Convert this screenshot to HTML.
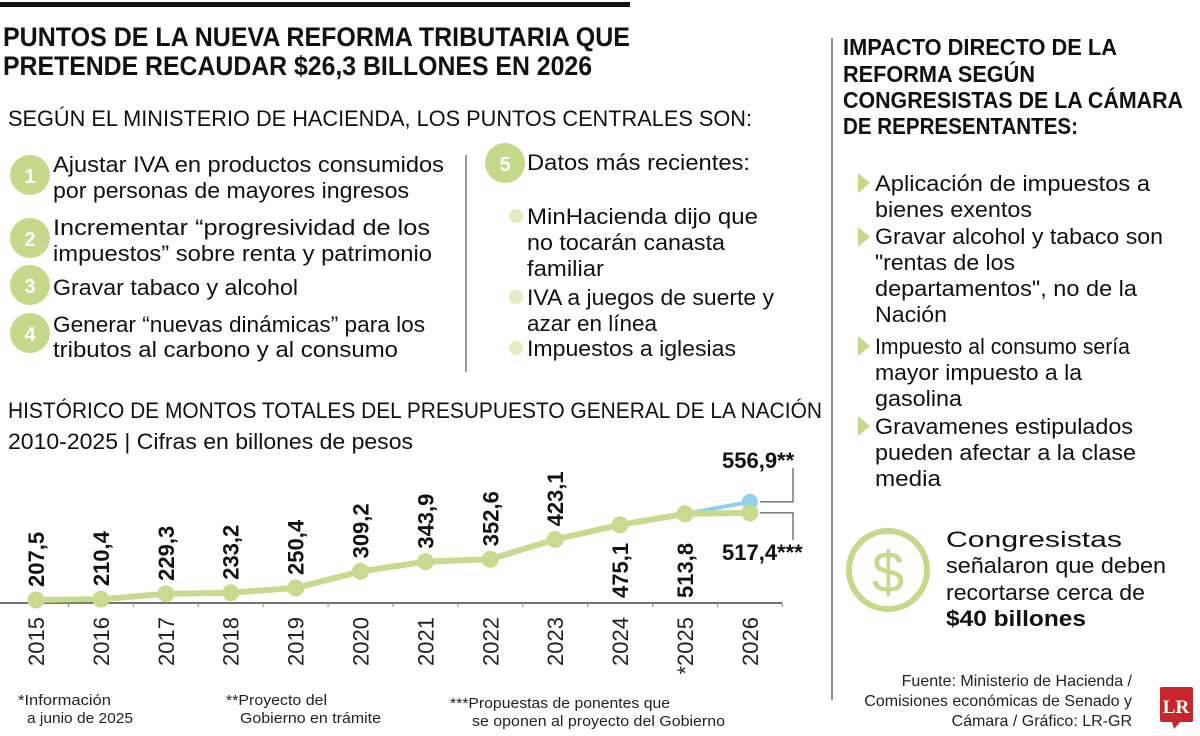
<!DOCTYPE html>
<html><head><meta charset="utf-8"><style>
html,body{margin:0;padding:0;background:#fff;}
svg{display:block;font-family:"Liberation Sans",sans-serif;}
.t{font-size:22px;fill:#111;}
.b{font-weight:bold;}
</style></head><body>
<svg id="page" width="1200" height="736" viewBox="0 0 1200 736" xmlns="http://www.w3.org/2000/svg">
<rect width="1200" height="736" fill="#fff"/>
<rect x="0" y="2" width="630" height="5" fill="#111"/>
<g class="b" font-size="27" fill="#111">
<text x="3" y="46" textLength="627" lengthAdjust="spacingAndGlyphs">PUNTOS DE LA NUEVA REFORMA TRIBUTARIA QUE</text>
<text x="3" y="75" textLength="589" lengthAdjust="spacingAndGlyphs">PRETENDE RECAUDAR $26,3 BILLONES EN 2026</text>
</g>
<text class="t" x="8" y="126" textLength="744" lengthAdjust="spacingAndGlyphs">SEGÚN EL MINISTERIO DE HACIENDA, LOS PUNTOS CENTRALES SON:</text>

<g>
<circle cx="30" cy="175" r="20" fill="#c5d98a"/><text x="30" y="183" text-anchor="middle" class="b" font-size="20" fill="#fff">1</text>
<text class="t" x="53" y="172" textLength="391" lengthAdjust="spacingAndGlyphs">Ajustar IVA en productos consumidos</text>
<text class="t" x="53" y="198" textLength="356" lengthAdjust="spacingAndGlyphs">por personas de mayores ingresos</text></g>
<g>
<circle cx="30" cy="238" r="20" fill="#c5d98a"/><text x="30" y="246" text-anchor="middle" class="b" font-size="20" fill="#fff">2</text>
<text class="t" x="53" y="235" textLength="377" lengthAdjust="spacingAndGlyphs">Incrementar “progresividad de los</text>
<text class="t" x="53" y="261" textLength="379" lengthAdjust="spacingAndGlyphs">impuestos” sobre renta y patrimonio</text></g>
<g>
<circle cx="30" cy="285" r="20" fill="#c5d98a"/><text x="30" y="293" text-anchor="middle" class="b" font-size="20" fill="#fff">3</text>
<text class="t" x="53" y="295" textLength="245" lengthAdjust="spacingAndGlyphs">Gravar tabaco y alcohol</text></g>
<g>
<circle cx="30" cy="333" r="20" fill="#c5d98a"/><text x="30" y="341" text-anchor="middle" class="b" font-size="20" fill="#fff">4</text>
<text class="t" x="53" y="332" textLength="372" lengthAdjust="spacingAndGlyphs">Generar “nuevas dinámicas” para los</text>
<text class="t" x="53" y="357" textLength="345" lengthAdjust="spacingAndGlyphs">tributos al carbono y al consumo</text></g>
<line x1="466" y1="155" x2="466" y2="372" stroke="#333" stroke-width="1"/>
<g>
<circle cx="505" cy="163" r="20" fill="#c5d98a"/><text x="505" y="171" text-anchor="middle" class="b" font-size="20" fill="#fff">5</text>
<text class="t" x="527" y="170" textLength="223" lengthAdjust="spacingAndGlyphs">Datos más recientes:</text>
<circle cx="516" cy="216" r="7" fill="#e2ecc5"/>
<text class="t" x="527" y="224" textLength="231" lengthAdjust="spacingAndGlyphs">MinHacienda dijo que</text>
<text class="t" x="527" y="250" textLength="198" lengthAdjust="spacingAndGlyphs">no tocarán canasta</text>
<text class="t" x="527" y="276" textLength="77" lengthAdjust="spacingAndGlyphs">familiar</text>
<circle cx="516" cy="297" r="7" fill="#e2ecc5"/>
<text class="t" x="527" y="305" textLength="247" lengthAdjust="spacingAndGlyphs">IVA a juegos de suerte y</text>
<text class="t" x="527" y="331" textLength="130" lengthAdjust="spacingAndGlyphs">azar en línea</text>
<circle cx="516" cy="348" r="7" fill="#e2ecc5"/>
<text class="t" x="527" y="356" textLength="209" lengthAdjust="spacingAndGlyphs">Impuestos a iglesias</text></g>

<text class="t" font-size="21" x="8" y="418" textLength="814" lengthAdjust="spacingAndGlyphs">HISTÓRICO DE MONTOS TOTALES DEL PRESUPUESTO GENERAL DE LA NACIÓN</text>
<text class="t" font-size="21" fill="#333" x="8" y="449" textLength="405" lengthAdjust="spacingAndGlyphs">2010-2025 | Cifras en billones de pesos</text>
<g id="chart"></g>

<g font-size="15" fill="#222">
<text x="18" y="705" textLength="93" lengthAdjust="spacingAndGlyphs">*Información</text>
<text x="27" y="723" textLength="106" lengthAdjust="spacingAndGlyphs">a junio de 2025</text>
<text x="226" y="705" textLength="101" lengthAdjust="spacingAndGlyphs">**Proyecto del</text>
<text x="240" y="723" textLength="141" lengthAdjust="spacingAndGlyphs">Gobierno en trámite</text>
<text x="450" y="708" textLength="220" lengthAdjust="spacingAndGlyphs">***Propuestas de ponentes que</text>
<text x="472" y="726" textLength="253" lengthAdjust="spacingAndGlyphs">se oponen al proyecto del Gobierno</text>
</g>

<line x1="832" y1="38" x2="832" y2="700" stroke="#444" stroke-width="1.2"/>
<g class="b" font-size="23" fill="#111">
<text x="843" y="55" textLength="274" lengthAdjust="spacingAndGlyphs">IMPACTO DIRECTO DE LA</text>
<text x="843" y="82" textLength="192" lengthAdjust="spacingAndGlyphs">REFORMA SEGÚN</text>
<text x="843" y="108" textLength="340" lengthAdjust="spacingAndGlyphs">CONGRESISTAS DE LA CÁMARA</text>
<text x="843" y="134" textLength="235" lengthAdjust="spacingAndGlyphs">DE REPRESENTANTES:</text>
</g>
<g>
<polygon points="858,173 870,183 858,193" fill="#c5d98a"/>
<text class="t" x="875" y="191" textLength="275" lengthAdjust="spacingAndGlyphs">Aplicación de impuestos a</text>
<text class="t" x="875" y="217" textLength="157" lengthAdjust="spacingAndGlyphs">bienes exentos</text>
<polygon points="858,227 870,237 858,247" fill="#c5d98a"/>
<text class="t" x="875" y="244" textLength="288" lengthAdjust="spacingAndGlyphs">Gravar alcohol y tabaco son</text>
<text class="t" x="875" y="270" textLength="140" lengthAdjust="spacingAndGlyphs">"rentas de los</text>
<text class="t" x="875" y="296" textLength="262" lengthAdjust="spacingAndGlyphs">departamentos", no de la</text>
<text class="t" x="875" y="322" textLength="72" lengthAdjust="spacingAndGlyphs">Nación</text>
<polygon points="858,336 870,346 858,356" fill="#c5d98a"/>
<text class="t" x="875" y="354" textLength="255" lengthAdjust="spacingAndGlyphs">Impuesto al consumo sería</text>
<text class="t" x="875" y="380" textLength="207" lengthAdjust="spacingAndGlyphs">mayor impuesto a la</text>
<text class="t" x="875" y="406" textLength="87" lengthAdjust="spacingAndGlyphs">gasolina</text>
<polygon points="858,416 870,426 858,436" fill="#c5d98a"/>
<text class="t" x="875" y="434" textLength="258" lengthAdjust="spacingAndGlyphs">Gravamenes estipulados</text>
<text class="t" x="875" y="460" textLength="261" lengthAdjust="spacingAndGlyphs">pueden afectar a la clase</text>
<text class="t" x="875" y="486" textLength="66" lengthAdjust="spacingAndGlyphs">media</text>
</g>
<g>
<circle cx="888" cy="570" r="39" fill="none" stroke="#c5d98a" stroke-width="6"/>
<text x="888" y="592" text-anchor="middle" font-size="58" fill="#c5d98a">$</text></g>
<g>
<text class="t" x="946" y="547" textLength="176" lengthAdjust="spacingAndGlyphs">Congresistas</text>
<text class="t" x="946" y="573" textLength="220" lengthAdjust="spacingAndGlyphs">señalaron que deben</text>
<text class="t" x="946" y="600" textLength="199" lengthAdjust="spacingAndGlyphs">recortarse cerca de</text>
<text class="t b" x="946" y="626" textLength="140" lengthAdjust="spacingAndGlyphs">$40 billones</text></g>
<g font-size="16" fill="#222" text-anchor="end">
<text x="1132" y="686">Fuente: Ministerio de Hacienda /</text>
<text x="1132" y="706">Comisiones económicas de Senado y</text>
<text x="1132" y="726">Cámara / Gráfico: LR-GR</text></g>
<g>
<rect x="1160" y="687" width="33" height="35" rx="2" fill="#c8252c"/>
<polygon points="1172,722 1180,722 1174,729" fill="#c8252c"/>
<text x="1176" y="713" text-anchor="middle" font-family="Liberation Serif,serif" font-weight="bold" font-size="19" fill="#fff">LR</text></g>
</svg>
<script>
const years = ['2015','2016','2017','2018','2019','2020','2021','2022','2023','2024','*2025','2026'];
const values = [207.5,210.4,229.3,233.2,250.4,309.2,343.9,352.6,423.1,475.1,513.8,517.4];
const valueLabels = ['207,5','210,4','229,3','233,2','250,4','309,2','343,9','352,6','423,1','475,1','513,8'];
const govValue = 556.9;
const govLabel = '556,9**';
const ponentesLabel = '517,4***';

const NS = 'http://www.w3.org/2000/svg';
const g = document.getElementById('chart');
const xScale = i => 36 + i * 64.9;
const yScale = v => 600 - (v - 207.5) * 0.281;
function mk(tag, attrs, text) {
  const e = document.createElementNS(NS, tag);
  for (const k in attrs) e.setAttribute(k, attrs[k]);
  if (text !== undefined) e.textContent = text;
  g.appendChild(e);
  return e;
}
const axis = mk('line', {x1: 0, y1: 603, x2: 782, y2: 603, stroke: '#444', 'stroke-width': 1.5});


for (let i = 0; i < years.length; i++) {
  const tk = mk('line', {x1: xScale(i) + 32.5, y1: 603, x2: xScale(i) + 32.5, y2: 607, stroke: '#888', 'stroke-width': 1});
  
  
}
const n = values.length;
const blue = mk('line', {x1: xScale(n - 2), y1: yScale(values[n - 2]), x2: xScale(n - 1), y2: yScale(govValue), stroke: '#8fd0ea', 'stroke-width': 4});


const pts = values.map((v, i) => xScale(i) + ',' + yScale(v)).join(' ');
const line = mk('polyline', {points: pts, fill: 'none', stroke: '#c8da8e', 'stroke-width': 6, 'stroke-linejoin': 'round'});


const bp = mk('circle', {cx: xScale(n - 1), cy: yScale(govValue), r: 8, fill: '#8fd0ea'});


values.forEach((v, i) => {
  const c = mk('circle', {cx: xScale(i), cy: yScale(v), r: 8.5, fill: '#c8da8e'});
  
  
  const yl = mk('text', {x: 0, y: 0, transform: 'translate(' + (xScale(i) + 8) + ',617) rotate(-90)', 'text-anchor': 'end', 'font-size': 22, fill: '#222'}, years[i]);
  
  
  if (i < valueLabels.length) {
    const inside = i >= 9;
    const by = inside ? 598 : yScale(v) - 13;
    const vl = mk('text', {x: 0, y: 0, transform: 'translate(' + (xScale(i) + 8) + ',' + by + ') rotate(-90)', 'font-size': 22, 'font-weight': 'bold', fill: '#111'}, valueLabels[i]);
    
    
  }
});
const xe = xScale(n - 1);
const a1 = mk('polyline', {points: (xe + 10) + ',' + yScale(govValue) + ' 793,' + yScale(govValue) + ' 793,468', fill: 'none', stroke: '#333', 'stroke-width': 1});


const l1 = mk('text', {x: 722, y: 468, 'font-size': 22, 'font-weight': 'bold', fill: '#111'}, govLabel);


const a2 = mk('polyline', {points: (xe + 10) + ',' + yScale(values[n - 1]) + ' 793,' + yScale(values[n - 1]) + ' 793,540', fill: 'none', stroke: '#333', 'stroke-width': 1});


const l2 = mk('text', {x: 722, y: 560, 'font-size': 22, 'font-weight': 'bold', fill: '#111'}, ponentesLabel);


</script>
</body></html>
